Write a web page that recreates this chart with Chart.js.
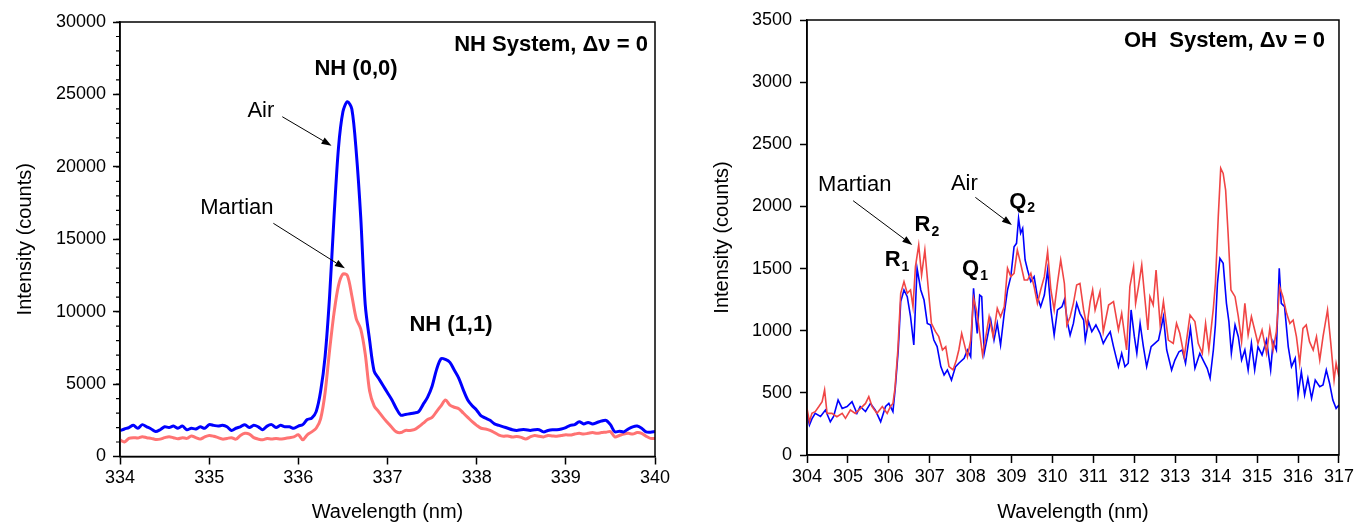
<!DOCTYPE html>
<html>
<head>
<meta charset="utf-8">
<title>NH and OH emission spectra</title>
<script src="https://cdn.jsdelivr.net/npm/chart.js@4.4.1/dist/chart.umd.min.js"></script>
<style>
    html, body { margin: 0; padding: 0; background: #fff; }
    .panel { position: absolute; top: 0; height: 524px; }
    #nhPanel { left: 0; width: 680px; }
    #ohPanel { left: 680px; width: 677px; }
</style>
</head>
<body>
<div class="panel" id="nhPanel"><canvas id="nhChart"></canvas></div>
<div class="panel" id="ohPanel"><canvas id="ohChart"></canvas></div>

<script>
/* ========================================
   Spectrum data
   ======================================== */

// NH system, 334 - 340 nm, sampled every 0.05 nm
const nhWavelength = [
    334.00, 334.05, 334.10, 334.15, 334.20, 334.25, 334.30, 334.35, 334.40, 334.45,
    334.50, 334.55, 334.60, 334.65, 334.70, 334.75, 334.80, 334.85, 334.90, 334.95,
    335.00, 335.05, 335.10, 335.15, 335.20, 335.25, 335.30, 335.35, 335.40, 335.45,
    335.50, 335.55, 335.60, 335.65, 335.70, 335.75, 335.80, 335.85, 335.90, 335.95,
    336.00, 336.05, 336.10, 336.15, 336.20, 336.25, 336.30, 336.35, 336.40, 336.45,
    336.50, 336.55, 336.60, 336.65, 336.70, 336.75, 336.80, 336.85, 336.90, 336.95,
    337.00, 337.05, 337.10, 337.15, 337.20, 337.25, 337.30, 337.35, 337.40, 337.45,
    337.50, 337.55, 337.60, 337.65, 337.70, 337.75, 337.80, 337.85, 337.90, 337.95,
    338.00, 338.05, 338.10, 338.15, 338.20, 338.25, 338.30, 338.35, 338.40, 338.45,
    338.50, 338.55, 338.60, 338.65, 338.70, 338.75, 338.80, 338.85, 338.90, 338.95,
    339.00, 339.05, 339.10, 339.15, 339.20, 339.25, 339.30, 339.35, 339.40, 339.45,
    339.50, 339.55, 339.60, 339.65, 339.70, 339.75, 339.80, 339.85, 339.90, 339.95,
    340.00
];

const nhAir = [
    1780, 1900, 2000, 2150, 1950, 2200, 2050, 1900, 1720, 1850,
    2050, 2000, 2100, 1950, 2100, 1850, 1950, 1900, 2050, 1950,
    2200, 2150, 2100, 2150, 2050, 1800, 1950, 2050, 2200, 2000,
    2150, 2050, 1850, 2100, 2200, 2000, 2150, 2050, 2050, 1950,
    2100, 2200, 2550, 2650, 3100, 4500, 6900, 11000, 16500, 21300,
    23800, 24500, 24000, 21000, 16500, 10500, 8000, 5900, 5400, 4900,
    4400, 3900, 3300, 2850, 2900, 2950, 3000, 3100, 3600, 4100,
    4850, 6000, 6750, 6700, 6500, 5950, 5400, 4600, 3900, 3500,
    3200, 2800, 2650, 2500, 2250, 2150, 2050, 1950, 1850, 1800,
    1850, 1850, 1800, 1850, 1850, 1700, 1800, 1850, 1850, 1900,
    2000, 2150, 2200, 2400, 2250, 2350, 2250, 2350, 2450, 2500,
    2200, 1700, 1750, 1700, 1900, 2050, 2100, 1950, 1700, 1680,
    1720
];

const nhMartian = [
    1140, 1000, 1250, 1300, 1280, 1370, 1300, 1250, 1180, 1200,
    1300, 1370, 1300, 1220, 1300, 1250, 1420, 1300, 1200, 1350,
    1450, 1400, 1300, 1200, 1250, 1300, 1200, 1450, 1600, 1550,
    1300, 1200, 1150, 1250, 1200, 1250, 1200, 1250, 1300, 1350,
    1500, 1150, 1500, 1700, 1950, 2600, 4400, 7300, 9900, 11800,
    12600, 12500, 11100, 9500, 8800, 7100, 4500, 3500, 3100, 2700,
    2350, 2000, 1700, 1650, 1800, 1800, 1850, 2050, 2300, 2550,
    2700, 3100, 3500, 3900, 3550, 3400, 3300, 3000, 2700, 2400,
    2150, 1950, 1900, 1800, 1650, 1480, 1400, 1420, 1350, 1380,
    1320, 1200, 1350, 1450, 1400, 1350, 1450, 1420, 1400, 1450,
    1500, 1480, 1550, 1600, 1550, 1600, 1650, 1600, 1650, 1680,
    1720, 1350, 1450, 1550, 1600, 1550, 1650, 1600, 1400, 1250,
    1250
];

// OH system, 304 - 317 nm (points taken along each trace)
const ohAirWavelength = [
    304.00, 304.06, 304.12, 304.20, 304.33, 304.45, 304.57, 304.65, 304.76, 304.86, 304.98,
    305.10, 305.22, 305.30, 305.43, 305.55, 305.67, 305.80, 305.92,
    306.00, 306.10, 306.16, 306.23, 306.29, 306.37, 306.45, 306.53, 306.61, 306.69, 306.78, 306.86, 306.94,
    307.02, 307.10, 307.18, 307.27, 307.35, 307.43, 307.53, 307.63, 307.71, 307.84, 307.92,
    308.00, 308.07, 308.12, 308.16, 308.22, 308.27, 308.33, 308.41, 308.49, 308.57, 308.65, 308.73, 308.82, 308.90, 308.98,
    309.06, 309.12, 309.17, 309.22, 309.27, 309.33, 309.39, 309.47, 309.55, 309.63, 309.71, 309.80, 309.88, 309.96,
    310.04, 310.12, 310.23, 310.29, 310.37, 310.43, 310.51, 310.59, 310.67, 310.76, 310.80, 310.88, 310.96,
    311.06, 311.16, 311.24, 311.33, 311.41, 311.49, 311.61, 311.69, 311.77, 311.85, 311.92,
    312.00, 312.06, 312.14, 312.22, 312.30, 312.41, 312.50, 312.59, 312.71, 312.79, 312.91, 312.99,
    313.09, 313.17, 313.25, 313.37, 313.48, 313.60, 313.70, 313.78, 313.85, 313.93, 313.98,
    314.03, 314.09, 314.17, 314.25, 314.31, 314.37, 314.46, 314.54, 314.62, 314.70, 314.78, 314.86, 314.94,
    315.02, 315.12, 315.23, 315.33, 315.39, 315.47, 315.54, 315.59, 315.67, 315.76, 315.84, 315.93,
    316.00, 316.08, 316.16, 316.24, 316.33, 316.42, 316.53, 316.61, 316.69, 316.77, 316.85, 316.93,
    317.00
];

const ohAir = [
    335, 241, 290, 335, 310, 362, 268, 310, 442, 375, 390,
    429, 335, 390, 350, 415, 360, 268, 390,
    415, 349, 550, 845, 1234, 1328, 1274, 1113, 885, 1502, 1328, 1247, 1059,
    1046, 925, 872, 711, 644, 684, 603, 711, 738, 778, 845,
    790, 1341, 1113, 979, 1287, 1274, 818, 952, 1086, 925, 1059, 885, 1140, 1328, 1435,
    1676, 1703, 1904, 1784, 1824, 1569, 1488, 1395, 1435, 1274, 1193, 1287, 1488, 1167,
    965, 1167, 1193, 1250, 1059, 965, 1059, 1220, 1140, 1086, 925, 1073, 992,
    1046, 979, 898, 952, 992, 872, 711, 818, 711, 738, 1167,
    952, 818, 1059, 872, 711, 872, 898, 925, 1113, 845, 684, 764,
    831, 845, 738, 1019, 697, 818, 750, 697, 617, 845, 1046,
    1381, 1582, 1542, 1220, 1073, 818, 1046, 952, 764, 845, 684, 898, 684,
    872, 805, 925, 684, 912, 845, 1502, 1220, 1193, 872, 711, 778,
    483, 670, 483, 617, 456, 603, 550, 563, 684, 577, 442, 375,
    402
];

const ohMartianWavelength = [
    304.00, 304.06, 304.12, 304.20, 304.29, 304.37, 304.43, 304.49, 304.61, 304.73, 304.86, 304.94,
    305.06, 305.18, 305.31, 305.43, 305.51, 305.59, 305.71, 305.84, 305.96,
    306.04, 306.10, 306.15, 306.22, 306.29, 306.37, 306.45, 306.53, 306.59, 306.65, 306.73, 306.80, 306.88, 306.96,
    307.04, 307.14, 307.22, 307.31, 307.39, 307.47, 307.57, 307.65, 307.71, 307.78, 307.84, 307.92,
    308.00, 308.07, 308.14, 308.20, 308.29, 308.37, 308.45, 308.55, 308.65, 308.73, 308.82, 308.90, 308.98,
    309.06, 309.14, 309.22, 309.31, 309.39, 309.47, 309.55, 309.63, 309.71, 309.80, 309.88, 309.96,
    310.04, 310.12, 310.20, 310.29, 310.35, 310.43, 310.51, 310.59, 310.67, 310.76, 310.84, 310.92, 310.98,
    311.04, 311.16, 311.24, 311.37, 311.49, 311.61, 311.69, 311.81, 311.89, 311.98,
    312.03, 312.10, 312.18, 312.26, 312.33, 312.38, 312.46, 312.53, 312.63, 312.71, 312.83, 312.95,
    313.03, 313.11, 313.22, 313.36, 313.48, 313.56, 313.66, 313.74, 313.82, 313.93, 313.98,
    314.05, 314.11, 314.17, 314.23, 314.29, 314.36, 314.46, 314.54, 314.62, 314.70, 314.78, 314.86, 314.94,
    315.02, 315.12, 315.23, 315.31, 315.39, 315.47, 315.55, 315.63, 315.72, 315.80, 315.88, 315.96,
    316.04, 316.12, 316.20, 316.28, 316.37, 316.45, 316.53, 316.61, 316.72, 316.80, 316.88, 316.93,
    317.00
];

const ohMartian = [
    375, 268, 335, 349, 390, 429, 523, 335, 335, 308, 335, 295,
    362, 335, 375, 415, 469, 390, 335, 390, 335,
    390, 415, 536, 845, 1301, 1395, 1301, 1328, 1193, 1515, 1690, 1448, 1649, 1354,
    1059, 992, 952, 845, 872, 711, 684, 764, 845, 979, 898, 791,
    925, 1261, 1167, 1033, 805, 952, 1113, 952, 1180, 1113, 1193, 1502, 1435,
    1462, 1649, 1542, 1408, 1408, 1462, 1354, 1220, 1328, 1435, 1636, 1328,
    1167, 1381, 1569, 1380, 1046, 1113, 1220, 1368, 1381, 1167, 1033, 1234, 1328,
    1167, 1314, 992, 1207, 1234, 1006, 1140, 845, 1354, 1515,
    1220, 1354, 1529, 1247, 1006, 1274, 1207, 1488, 1046, 1234, 925, 898,
    1059, 979, 791, 1126, 1073, 898, 818, 1059, 845, 1180, 1381,
    1918, 2307, 2266, 2132, 1784, 1328, 1274, 1113, 912, 1220, 965, 1113, 1006,
    898, 1006, 818, 1019, 845, 992, 1354, 1274, 1140, 1059, 1086, 952,
    738, 1019, 1046, 912, 845, 952, 764, 952, 1167, 898, 603, 738,
    630
];

// Axis ranges and tick steps
const nhRange = { xMin: 334, xMax: 340, yMin: 0, yMax: 30000, xStep: 1, yStep: 5000 };
const ohRange = { xMin: 304, xMax: 317, yMin: 0, yMax: 3500, xStep: 1, yStep: 500 };

/* ========================================
   Drawing helpers
   ======================================== */

const FONT = '"Liberation Sans", Arial, sans-serif';

function toPoints(xs, ys) {
    return xs.map((x, i) => ({ x: x, y: ys[i] }));
}

function drawArrow(ctx, x1, y1, x2, y2) {
    const ang = Math.atan2(y2 - y1, x2 - x1);
    const head = 10, half = 3.5;
    const bx = x2 - head * Math.cos(ang);
    const by = y2 - head * Math.sin(ang);
    ctx.lineWidth = 1;
    ctx.beginPath();
    ctx.moveTo(x1, y1);
    ctx.lineTo(bx, by);
    ctx.stroke();
    ctx.beginPath();
    ctx.moveTo(x2, y2);
    ctx.lineTo(bx + half * Math.sin(ang), by - half * Math.cos(ang));
    ctx.lineTo(bx - half * Math.sin(ang), by + half * Math.cos(ang));
    ctx.closePath();
    ctx.fill();
}

// Frame, minor ticks, labels and arrows
const notesPlugin = {
    id: 'notes',
    afterDatasetsDraw(chart, args, opts) {
        const { ctx, chartArea: area, scales: { x, y } } = chart;
        ctx.save();
        ctx.strokeStyle = '#000';
        ctx.fillStyle = '#000';

        ctx.lineWidth = 1.5;
        ctx.strokeRect(area.left, area.top, area.right - area.left, area.bottom - area.top);

        if (opts.minorStep) {
            ctx.lineWidth = 1.2;
            ctx.beginPath();
            for (let v = y.min; v <= y.max; v += opts.minorStep) {
                const py = y.getPixelForValue(v);
                ctx.moveTo(area.left - 4, py);
                ctx.lineTo(area.left, py);
            }
            ctx.stroke();
        }

        (opts.arrows || []).forEach(a => {
            drawArrow(ctx,
                x.getPixelForValue(a.from[0]), y.getPixelForValue(a.from[1]),
                x.getPixelForValue(a.to[0]), y.getPixelForValue(a.to[1]));
        });

        (opts.labels || []).forEach(l => {
            const px = x.getPixelForValue(l.x);
            const py = y.getPixelForValue(l.y);
            ctx.font = (l.bold ? 'bold ' : '') + '22px ' + FONT;
            ctx.textAlign = l.align || 'center';
            ctx.textBaseline = 'middle';
            ctx.fillText(l.text, px, py);
            if (l.sub) {
                const w = ctx.measureText(l.text).width;
                ctx.font = 'bold 14px ' + FONT;
                ctx.textAlign = 'left';
                ctx.fillText(l.sub, px + w + 1, py + 7);
            }
        });
        ctx.restore();
    }
};

function buildChart(canvasId, cfg) {
    const ctx = document.getElementById(canvasId);
    return new Chart(ctx, {
        type: 'line',
        data: { datasets: cfg.datasets },
        options: {
            responsive: true,
            maintainAspectRatio: false,
            animation: false,
            layout: { padding: cfg.padding },
            plugins: {
                legend: { display: false },
                tooltip: { enabled: false },
                notes: cfg.notes
            },
            elements: { point: { radius: 0 } },
            scales: {
                x: {
                    type: 'linear',
                    min: cfg.range.xMin,
                    max: cfg.range.xMax,
                    afterFit: s => { s.height = cfg.xAxisHeight; },
                    ticks: {
                        stepSize: cfg.range.xStep,
                        color: '#000',
                        padding: 3,
                        maxRotation: 0,
                        font: { family: FONT, size: 18 },
                        callback: v => String(v)
                    },
                    grid: { drawOnChartArea: false, tickLength: 8, tickColor: '#000', tickWidth: 1.5 },
                    border: { color: '#000', width: 1.5 },
                    title: {
                        display: true,
                        text: 'Wavelength (nm)',
                        color: '#000',
                        padding: { top: 0, bottom: 0 },
                        font: { family: FONT, size: 20 }
                    }
                },
                y: {
                    min: cfg.range.yMin,
                    max: cfg.range.yMax,
                    afterFit: s => { s.width = cfg.yAxisWidth; },
                    ticks: {
                        stepSize: cfg.range.yStep,
                        color: '#000',
                        padding: cfg.yTickPadding,
                        font: { family: FONT, size: 18 },
                        callback: v => String(v)
                    },
                    grid: { drawOnChartArea: false, tickLength: 7, tickColor: '#000', tickWidth: 1.5 },
                    border: { color: '#000', width: 1.5 },
                    title: {
                        display: true,
                        text: 'Intensity (counts)',
                        color: '#000',
                        padding: { top: cfg.yTitleOffset, bottom: 0 },
                        font: { family: FONT, size: 20 }
                    }
                }
            }
        },
        plugins: [notesPlugin]
    });
}

/* ========================================
   NH panel
   ======================================== */
window.nhChartInstance = buildChart('nhChart', {
    range: nhRange,
    padding: { top: 22, right: 25, left: 0, bottom: 0 },
    xAxisHeight: 67.5,
    yAxisWidth: 120,
    yTickPadding: 7,
    yTitleOffset: 13,
    datasets: [
        {
            label: 'Air',
            data: toPoints(nhWavelength, nhAir),
            borderColor: '#0000FF',
            borderWidth: 3,
            tension: 0.3,
            order: 0
        },
        {
            label: 'Martian',
            data: toPoints(nhWavelength, nhMartian),
            borderColor: '#FF7373',
            borderWidth: 3,
            tension: 0.3,
            order: 1
        }
    ],
    notes: {
        minorStep: 1000,
        labels: [
            { text: 'NH System, \u0394\u03bd = 0', x: 339.92, y: 28400, bold: true, align: 'right' },
            { text: 'NH (0,0)', x: 336.647, y: 26750, bold: true },
            { text: 'NH (1,1)', x: 337.712, y: 9080, bold: true },
            { text: 'Air', x: 335.58, y: 23850 },
            { text: 'Martian', x: 335.31, y: 17160 }
        ],
        arrows: [
            { from: [335.82, 23460], to: [336.372, 21460] },
            { from: [335.72, 16100], to: [336.522, 12990] }
        ]
    }
});

/* ========================================
   OH panel
   ======================================== */
window.ohChartInstance = buildChart('ohChart', {
    range: ohRange,
    padding: { top: 20, right: 16, left: 0, bottom: 0 },
    xAxisHeight: 69,
    yAxisWidth: 127,
    yTickPadding: 8,
    yTitleOffset: 30,
    datasets: [
        {
            label: 'Air',
            data: toPoints(ohAirWavelength, ohAir),
            borderColor: '#0000FF',
            borderWidth: 1.6,
            tension: 0,
            order: 1
        },
        {
            label: 'Martian',
            data: toPoints(ohMartianWavelength, ohMartian),
            borderColor: '#F04545',
            borderWidth: 1.6,
            tension: 0,
            order: 0
        }
    ],
    notes: {
        labels: [
            { text: 'OH  System, \u0394\u03bd = 0', x: 316.66, y: 3331, bold: true, align: 'right' },
            { text: 'Martian', x: 305.168, y: 2172 },
            { text: 'Air', x: 307.846, y: 2180 },
            { text: 'R', sub: '1', x: 305.899, y: 1569, bold: true, align: 'left' },
            { text: 'R', sub: '2', x: 306.629, y: 1853, bold: true, align: 'left' },
            { text: 'Q', sub: '1', x: 307.790, y: 1497, bold: true, align: 'left' },
            { text: 'Q', sub: '2', x: 308.942, y: 2040, bold: true, align: 'left' }
        ],
        arrows: [
            { from: [305.127, 2046], to: [306.573, 1690] },
            { from: [308.114, 2073], to: [309.007, 1851] }
        ]
    }
});
</script>
</body>
</html>
